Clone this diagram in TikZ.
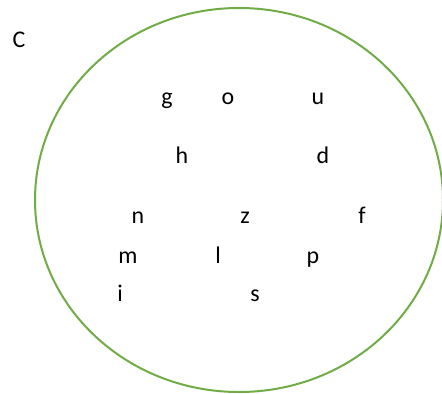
\documentclass[tikz,border=0pt]{standalone}
\usepackage{fontspec}
\setmainfont{Carlito}
\definecolor{setgreen}{HTML}{70AD47}
\begin{document}
\begin{tikzpicture}[x=1bp,y=1bp]
  \tikzset{elem/.style={anchor=base,inner sep=0pt,font=\fontsize{24}{28}\selectfont}}
  \path[use as bounding box] (0,0) rectangle (442,393);
  \fill[white] (0,0) rectangle (442,393);
  \draw[setgreen,line width=2bp] (239,193) ellipse [x radius=204, y radius=192];

  \node[elem] (setC) at (19,346) {C};

  \node[elem] (g) at (167,289) {g};
  \node[elem] (o) at (228,289) {o};
  \node[elem] (u) at (318,289) {u};

  \node[elem] (h) at (182,230) {h};
  \node[elem] (d) at (323,230) {d};

  \node[elem] (n) at (138,170) {n};
  \node[elem] (z) at (245,170) {z};
  \node[elem] (f) at (362,170) {f};

  \node[elem] (m) at (128,130) {m};
  \node[elem] (l) at (218,130) {l};
  \node[elem] (p) at (313,130) {p};

  \node[elem] (i) at (120,92) {i};
  \node[elem] (s) at (255,92) {s};
\end{tikzpicture}
\end{document}
